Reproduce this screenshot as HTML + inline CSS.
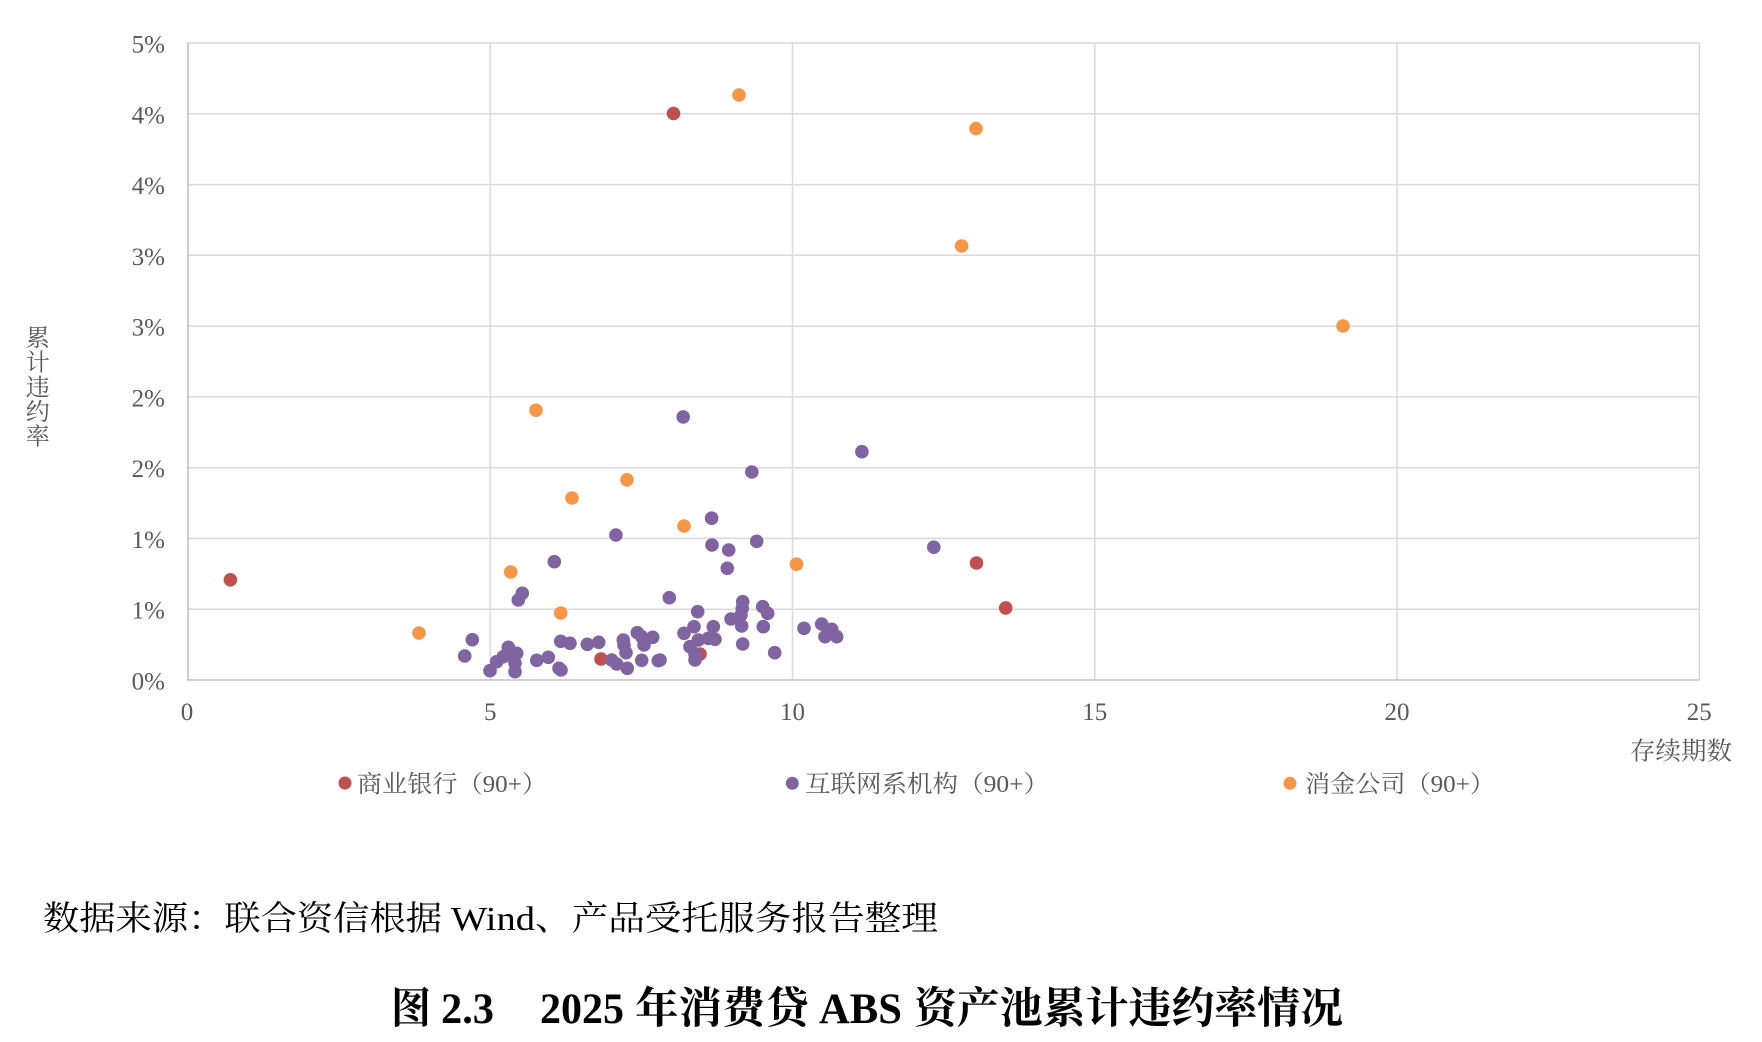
<!DOCTYPE html>
<html>
<head>
<meta charset="utf-8">
<style>
  html,body{margin:0;padding:0;background:#fff;}
  svg{display:block;}
  .tick{font-family:"Liberation Serif","Noto Serif CJK SC",serif;font-size:25px;fill:#595959;}
  .cjk{font-family:"Liberation Serif","Noto Serif CJK SC",serif;fill:#595959;}
  .src{font-family:"Liberation Serif","Noto Serif CJK SC",serif;font-size:34px;fill:#000;}
  .ttl{font-family:"Liberation Serif","Noto Serif CJK SC",serif;font-size:43px;font-weight:bold;fill:#000;}
</style>
</head>
<body>
<svg width="1762" height="1042" viewBox="0 0 1762 1042" xmlns="http://www.w3.org/2000/svg">
  <rect x="0" y="0" width="1762" height="1042" fill="#fff"/>
  <g stroke="#d9d9d9" stroke-width="1.5">
    <line x1="188" y1="43" x2="1699.3" y2="43"/>
    <line x1="188" y1="113.8" x2="1699.3" y2="113.8"/>
    <line x1="188" y1="184.6" x2="1699.3" y2="184.6"/>
    <line x1="188" y1="255.3" x2="1699.3" y2="255.3"/>
    <line x1="188" y1="326.1" x2="1699.3" y2="326.1"/>
    <line x1="188" y1="396.9" x2="1699.3" y2="396.9"/>
    <line x1="188" y1="467.7" x2="1699.3" y2="467.7"/>
    <line x1="188" y1="538.4" x2="1699.3" y2="538.4"/>
    <line x1="188" y1="609.2" x2="1699.3" y2="609.2"/>
    <line x1="490.3" y1="43" x2="490.3" y2="680"/>
    <line x1="792.5" y1="43" x2="792.5" y2="680"/>
    <line x1="1094.8" y1="43" x2="1094.8" y2="680"/>
    <line x1="1397" y1="43" x2="1397" y2="680"/>
    <line x1="1699.3" y1="43" x2="1699.3" y2="680"/>
  </g>
  <g stroke="#bfbfbf" stroke-width="1.6">
    <line x1="188" y1="43" x2="188" y2="680.8"/>
    <line x1="187.2" y1="680" x2="1699.3" y2="680"/>
  </g>

  <g class="tick" text-anchor="end">
    <text x="165" y="52.5">5%</text>
    <text x="165" y="123.3">4%</text>
    <text x="165" y="194.1">4%</text>
    <text x="165" y="264.8">3%</text>
    <text x="165" y="335.6">3%</text>
    <text x="165" y="406.4">2%</text>
    <text x="165" y="477.2">2%</text>
    <text x="165" y="547.9">1%</text>
    <text x="165" y="618.7">1%</text>
    <text x="165" y="689.5">0%</text>
  </g>
  <g class="tick" text-anchor="middle">
    <text x="187" y="720">0</text>
    <text x="490.3" y="720">5</text>
    <text x="792.5" y="720">10</text>
    <text x="1094.8" y="720">15</text>
    <text x="1397" y="720">20</text>
    <text x="1699.3" y="720">25</text>
  </g>

  <text class="cjk" x="1630" y="759.5" font-size="25" textLength="102" lengthAdjust="spacingAndGlyphs">存续期数</text>
  <g class="cjk" font-size="24" text-anchor="middle">
    <text x="37.7" y="346">累</text>
    <text x="37.7" y="370.7">计</text>
    <text x="37.7" y="395.3">违</text>
    <text x="37.7" y="420">约</text>
    <text x="37.7" y="444.7">率</text>
  </g>

  <g fill="#c0504d">
    <circle cx="673.5" cy="113.5" r="6.8"/>
    <circle cx="230.4" cy="579.8" r="6.8"/>
    <circle cx="601" cy="659" r="6.8"/>
    <circle cx="700" cy="654" r="6.8"/>
    <circle cx="976.5" cy="563" r="6.8"/>
    <circle cx="1005.7" cy="607.9" r="6.8"/>
  </g>
  <g fill="#8064a2">
    <circle cx="683.2" cy="416.9" r="6.8"/>
    <circle cx="861.9" cy="451.7" r="6.8"/>
    <circle cx="751.8" cy="472" r="6.8"/>
    <circle cx="711.6" cy="518.2" r="6.8"/>
    <circle cx="615.9" cy="535" r="6.8"/>
    <circle cx="712" cy="545" r="6.8"/>
    <circle cx="728.7" cy="550" r="6.8"/>
    <circle cx="756.7" cy="541.3" r="6.8"/>
    <circle cx="727.3" cy="568.3" r="6.8"/>
    <circle cx="554.3" cy="561.7" r="6.8"/>
    <circle cx="933.8" cy="547.2" r="6.8"/>
    <circle cx="522.3" cy="593.3" r="6.8"/>
    <circle cx="518.3" cy="600" r="6.8"/>
    <circle cx="472.3" cy="639.7" r="6.8"/>
    <circle cx="464.7" cy="656" r="6.8"/>
    <circle cx="508.3" cy="647.3" r="6.8"/>
    <circle cx="516.7" cy="653.3" r="6.8"/>
    <circle cx="503.3" cy="656.7" r="6.8"/>
    <circle cx="496.7" cy="661.7" r="6.8"/>
    <circle cx="515" cy="663.3" r="6.8"/>
    <circle cx="490" cy="670.7" r="6.8"/>
    <circle cx="515" cy="671.7" r="6.8"/>
    <circle cx="510" cy="655" r="6.8"/>
    <circle cx="536.7" cy="660.3" r="6.8"/>
    <circle cx="548.3" cy="657.3" r="6.8"/>
    <circle cx="560.7" cy="641.3" r="6.8"/>
    <circle cx="570" cy="643.3" r="6.8"/>
    <circle cx="559" cy="668.3" r="6.8"/>
    <circle cx="561" cy="670" r="6.8"/>
    <circle cx="587.3" cy="644.3" r="6.8"/>
    <circle cx="598.7" cy="642.3" r="6.8"/>
    <circle cx="611.7" cy="660" r="6.8"/>
    <circle cx="616.7" cy="664" r="6.8"/>
    <circle cx="627.3" cy="668.3" r="6.8"/>
    <circle cx="623.3" cy="640" r="6.8"/>
    <circle cx="624" cy="645" r="6.8"/>
    <circle cx="626" cy="652.7" r="6.8"/>
    <circle cx="637.3" cy="632.7" r="6.8"/>
    <circle cx="641.7" cy="636.7" r="6.8"/>
    <circle cx="644" cy="645" r="6.8"/>
    <circle cx="652.7" cy="637.3" r="6.8"/>
    <circle cx="641.7" cy="660.3" r="6.8"/>
    <circle cx="658.3" cy="660.7" r="6.8"/>
    <circle cx="669.3" cy="597.7" r="6.8"/>
    <circle cx="697.7" cy="611.7" r="6.8"/>
    <circle cx="742.7" cy="601.7" r="6.8"/>
    <circle cx="742.3" cy="608.3" r="6.8"/>
    <circle cx="731" cy="619" r="6.8"/>
    <circle cx="741" cy="615" r="6.8"/>
    <circle cx="741.7" cy="626" r="6.8"/>
    <circle cx="762.7" cy="606.7" r="6.8"/>
    <circle cx="767.7" cy="613.3" r="6.8"/>
    <circle cx="763.3" cy="626.7" r="6.8"/>
    <circle cx="694" cy="626.7" r="6.8"/>
    <circle cx="684" cy="633.3" r="6.8"/>
    <circle cx="713.3" cy="626.7" r="6.8"/>
    <circle cx="715" cy="639.3" r="6.8"/>
    <circle cx="698.3" cy="640" r="6.8"/>
    <circle cx="690" cy="646.7" r="6.8"/>
    <circle cx="708.3" cy="638.3" r="6.8"/>
    <circle cx="695" cy="654" r="6.8"/>
    <circle cx="695" cy="660" r="6.8"/>
    <circle cx="660" cy="660" r="6.8"/>
    <circle cx="742.7" cy="644" r="6.8"/>
    <circle cx="774.7" cy="652.7" r="6.8"/>
    <circle cx="804" cy="628.3" r="6.8"/>
    <circle cx="821.7" cy="624" r="6.8"/>
    <circle cx="831.7" cy="629.3" r="6.8"/>
    <circle cx="825" cy="636.7" r="6.8"/>
    <circle cx="836.7" cy="636.7" r="6.8"/>
  </g>
  <g fill="#f79646">
    <circle cx="739" cy="95" r="6.8"/>
    <circle cx="976" cy="128.6" r="6.8"/>
    <circle cx="961.6" cy="246" r="6.8"/>
    <circle cx="1343" cy="326" r="6.8"/>
    <circle cx="536" cy="410.2" r="6.8"/>
    <circle cx="627" cy="479.8" r="6.8"/>
    <circle cx="572" cy="498" r="6.8"/>
    <circle cx="684" cy="526" r="6.8"/>
    <circle cx="796.5" cy="564.2" r="6.8"/>
    <circle cx="510.7" cy="572" r="6.8"/>
    <circle cx="419" cy="633" r="6.8"/>
    <circle cx="560.7" cy="613" r="6.8"/>
  </g>

  <circle cx="345" cy="783" r="6.5" fill="#c0504d"/>
  <text class="cjk" x="357" y="792" font-size="24" textLength="190" lengthAdjust="spacingAndGlyphs">商业银行（90+）</text>
  <circle cx="792.3" cy="783.3" r="6.5" fill="#8064a2"/>
  <text class="cjk" x="805" y="792" font-size="24" textLength="244" lengthAdjust="spacingAndGlyphs">互联网系机构（90+）</text>
  <circle cx="1290" cy="783.3" r="6.5" fill="#f79646"/>
  <text class="cjk" x="1305" y="792" font-size="24" textLength="190" lengthAdjust="spacingAndGlyphs">消金公司（90+）</text>

  <text class="src" x="43" y="930" textLength="399" lengthAdjust="spacingAndGlyphs">数据来源：联合资信根据</text>
  <text class="src" x="451" y="930" textLength="84" lengthAdjust="spacingAndGlyphs">Wind</text>
  <text class="src" x="535" y="930" textLength="403" lengthAdjust="spacingAndGlyphs">、产品受托服务报告整理</text>

  <text class="ttl" x="391" y="1023" textLength="40" lengthAdjust="spacingAndGlyphs">图</text>
  <text class="ttl" x="441" y="1023" textLength="53" lengthAdjust="spacingAndGlyphs">2.3</text>
  <text class="ttl" x="540" y="1023" textLength="84" lengthAdjust="spacingAndGlyphs">2025</text>
  <text class="ttl" x="635" y="1023" textLength="174" lengthAdjust="spacingAndGlyphs">年消费贷</text>
  <text class="ttl" x="819" y="1023" textLength="83" lengthAdjust="spacingAndGlyphs">ABS</text>
  <text class="ttl" x="914" y="1023" textLength="429" lengthAdjust="spacingAndGlyphs">资产池累计违约率情况</text>
</svg>
</body>
</html>
